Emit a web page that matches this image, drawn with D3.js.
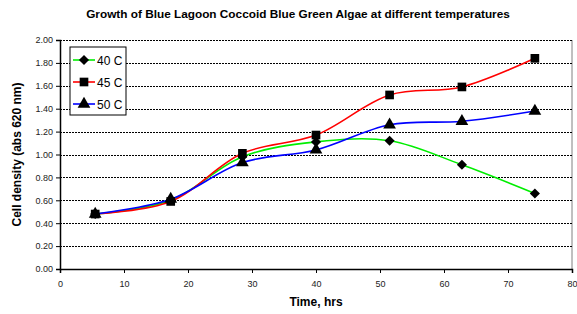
<!DOCTYPE html>
<html>
<head>
<meta charset="utf-8">
<script src="https://cdn.jsdelivr.net/npm/d3@7"></script>
<style>
  body { margin: 0; background: #fff; }
  text { font-family: "Liberation Sans", Arial, sans-serif; }
</style>
</head>
<body>
<script>
// Time points (hrs) and cell density readings for each temperature
const hours = [5.5, 17.3, 28.5, 40, 51.5, 62.8, 74.2];
const series40 = [0.48, 0.60, 0.98, 1.11, 1.12, 0.91, 0.66];
const series45 = [0.48, 0.59, 1.01, 1.17, 1.52, 1.59, 1.84];
const series50 = [0.48, 0.61, 0.93, 1.04, 1.26, 1.29, 1.38];
const seriesNames = ["40 C", "45 C", "50 C"];
const xTicks = [0, 10, 20, 30, 40, 50, 60, 70, 80];
const yTicks = [0, 0.2, 0.4, 0.6, 0.8, 1.0, 1.2, 1.4, 1.6, 1.8, 2.0];

const width = 577, height = 314;
const margin = {top: 40, right: 5, bottom: 45, left: 60};

const svg = d3.select("body").append("svg")
    .attr("width", width)
    .attr("height", height);

// Scales
let x = d3.scaleLinear().domain([0, 80]).range([margin.left, width - margin.right]);
let y = d3.scaleLinear().domain([0, 2]).range([height - margin.bottom, margin.top]);

// Right border of plot area
svg.append("line")
    .attr("x1", x(80)).attr("x2", x(80))
    .attr("y1", y(2)).attr("y2", y(0))
    .attr("stroke", "#808080")
    .attr("stroke-width", 1);

// Dotted grid lines
svg.append("g").selectAll("line")
    .data(yTicks.filter(d => d > 0))
    .enter().append("line")
    .attr("x1", x(0)).attr("x2", x(80))
    .attr("y1", d => Math.round(y(d)) + 0.5).attr("y2", d => Math.round(y(d)) + 0.5)
    .attr("stroke", "#000")
    .attr("stroke-width", 1)
    .attr("stroke-dasharray", "2,1");

// Axes
const yAxis = svg.append("g")
    .attr("transform", "translate(" + x(0) + ",0)")
    .call(d3.axisLeft(y).tickValues(yTicks).tickFormat(d3.format(".2f")).tickSizeOuter(0).tickSize(4).tickPadding(3));
const xAxis = svg.append("g")
    .attr("transform", "translate(0," + y(0) + ")")
    .call(d3.axisBottom(x).tickValues(xTicks).tickSizeOuter(0).tickSize(4).tickPadding(8));

[xAxis, yAxis].forEach(function(ax){
    ax.select(".domain").attr("stroke", "#000").attr("stroke-width", 1.5);
    ax.selectAll(".tick line").attr("stroke", "#000");
    ax.selectAll(".tick text")
        .attr("fill", "#222")
        .style("font-size", "9px")
        .style("font-family", "'Liberation Sans', Arial, sans-serif");
});

// Lines
const lineData = [
    {name: seriesNames[0], values: series40, color: "#00ee00", marker: d3.symbolDiamond2},
    {name: seriesNames[1], values: series45, color: "#ff0000", marker: d3.symbolSquare},
    {name: seriesNames[2], values: series50, color: "#0000ff", marker: d3.symbolTriangle}
];

function markerSize(m){
    if (m === d3.symbolDiamond2) return 65;
    if (m === d3.symbolSquare) return 75;
    return 70;
}

let line = d3.line()
    .x(function(d, i){ return x(hours[i]); })
    .y(function(d){ return y(d); })
    .curve(d3.curveCatmullRom.alpha(0.5));

lineData.forEach(function(s){
    svg.append("path")
        .attr("d", line(s.values))
        .attr("fill", "none")
        .attr("stroke", s.color)
        .attr("stroke-width", 1.6);
});

// markers: squares drawn last so they sit on top
[lineData[0], lineData[2], lineData[1]].forEach(function(s){
    svg.append("g").selectAll("path")
        .data(s.values)
        .enter().append("path")
        .attr("d", d3.symbol().type(s.marker).size(markerSize(s.marker)))
        .attr("transform", function(d, i){ return "translate(" + x(hours[i]) + "," + y(d) + ")"; })
        .attr("fill", "#000");
});

// Legend
const legend = svg.append("g").attr("transform", "translate(70,47)");
legend.append("rect")
    .attr("width", 56).attr("height", 68)
    .attr("fill", "#fff").attr("stroke", "#000").attr("stroke-width", 1);
lineData.forEach(function(s, i){
    let g = legend.append("g").attr("transform", "translate(0," + (13 + i * 22) + ")");
    g.append("line").attr("x1", 3).attr("x2", 25).attr("stroke", s.color).attr("stroke-width", 1.6);
    g.append("path")
        .attr("d", d3.symbol().type(s.marker).size(markerSize(s.marker)))
        .attr("transform", "translate(14,0)")
        .attr("fill", "#000");
    g.append("text").attr("x", 27).attr("y", 4.5)
        .text(s.name)
        .style("font-size", "12px")
        .attr("fill", "#000");
});

// Titles
svg.append("text")
    .attr("x", 298).attr("y", 18)
    .attr("text-anchor", "middle")
    .style("font-size", "11.8px").style("font-weight", "bold")
    .text("Growth of Blue Lagoon Coccoid Blue Green Algae at different temperatures");

svg.append("text")
    .attr("x", (x(0) + x(80)) / 2).attr("y", 306)
    .attr("text-anchor", "middle")
    .style("font-size", "12px").style("font-weight", "bold")
    .text("Time, hrs");

svg.append("text")
    .attr("transform", "translate(21," + ((y(0) + y(2)) / 2) + ") rotate(-90)")
    .attr("text-anchor", "middle")
    .style("font-size", "12px").style("font-weight", "bold")
    .text("Cell density (abs 620 nm)");
</script>
</body>
</html>
